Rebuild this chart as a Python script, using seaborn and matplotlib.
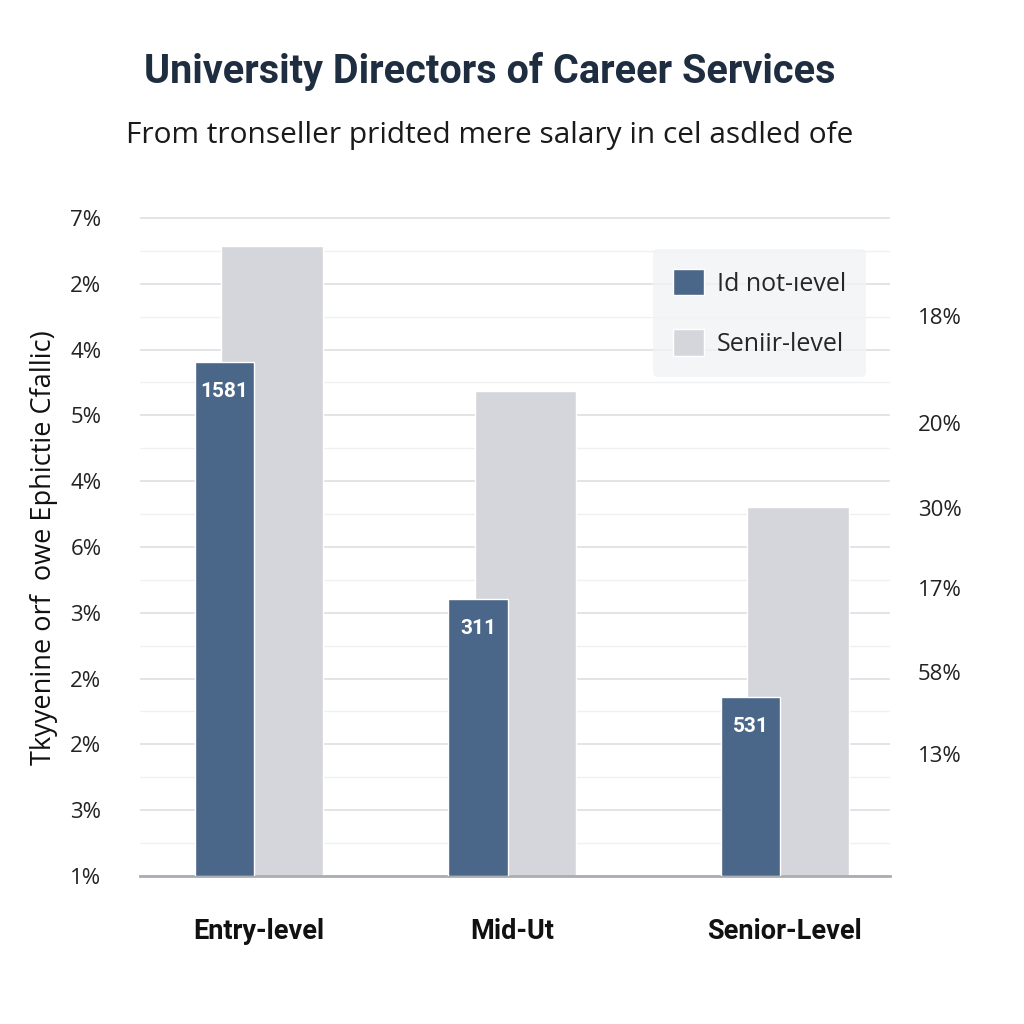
import numpy as np
import matplotlib
matplotlib.use("Agg")
import matplotlib.pyplot as plt
import seaborn as sns

# --- DATA ---
categories = ["Entry-level", "Mid-Ut", "Senior-Level"]
blue_values = [7.81, 4.21, 2.72]      # "Id not-ıevel"
grey_values = [9.57, 7.37, 5.61]      # "Seniir-level"
blue_labels = ["1581", "311", "531"]
left_tick_labels = ["1%", "3%", "2%", "2%", "3%", "6%", "4%", "5%", "4%", "2%", "7%"]
right_tick_pos = [8.51, 6.88, 5.59, 4.38, 3.10, 1.85]
right_tick_labels = ["18%", "20%", "30%", "17%", "58%", "13%"]

BLUE = "#4a6688"
GREY = "#d4d6db"

sns.set_style("white")
plt.rcParams["font.family"] = ["Open Sans", "DejaVu Sans"]

fig = plt.figure(figsize=(10.24, 10.24), dpi=100)
ax = fig.add_axes([0.137, 0.1445, 0.732, 0.662])

# group centres (the middle group sits a little left in the original)
pos = np.array([0.0, 0.965, 2.0])

# grey behind, blue in front (overlapping bars)
sns.barplot(x=pos + 0.05, y=grey_values, native_scale=True, width=0.40,
            color=GREY, saturation=1, label="Seniir-level", ax=ax, zorder=2)
sns.barplot(x=pos - 0.13, y=blue_values, native_scale=True, width=0.235,
            color=BLUE, saturation=1, label="Id not-ıevel", ax=ax, zorder=3)

blue_container = ax.containers[1]
ax.bar_label(blue_container, labels=blue_labels, padding=-28, color="white",
             fontsize=15, fontweight="bold", family=["Roboto", "DejaVu Sans"])

ax.set_xlim(-0.45, 2.40)
ax.set_ylim(0, 10.3)
ax.set_xticks(pos)
ax.set_xticklabels(categories, fontsize=19.5, fontweight="bold",
                   family=["Roboto", "DejaVu Sans"], color="#111111")
ax.tick_params(axis="x", length=0, pad=30)
ax.set_yticks(range(11))
ax.set_yticklabels(left_tick_labels, fontsize=16, color="#222222")
ax.tick_params(axis="y", length=0, pad=28)
ax.set_yticks(np.arange(0.5, 10.3, 1.0), minor=True)
ax.tick_params(axis="y", which="minor", length=0)

ax.grid(axis="y", which="major", color="#e2e4e7", linewidth=1.4, zorder=0)
ax.grid(axis="y", which="minor", color="#eef0f2", linewidth=1.0, zorder=0)
ax.set_axisbelow(True)
for s in ["top", "right", "left"]:
    ax.spines[s].set_visible(False)
ax.spines["bottom"].set_color("#a9acb1")
ax.spines["bottom"].set_linewidth(2)
ax.set_xlabel("")

ax.set_ylabel("Tkyyenine orf  owe Ephictie Cfallic)", fontsize=19.5, color="#111111")
ax.yaxis.set_label_coords(-0.11, 0.485)

# right-side labels
ax2 = ax.twinx()
ax2.set_ylim(ax.get_ylim())
ax2.set_yticks(right_tick_pos)
ax2.set_yticklabels(right_tick_labels, fontsize=16, color="#222222")
ax2.tick_params(axis="y", length=0, pad=20)
for s in ax2.spines.values():
    s.set_visible(False)

handles, labels = ax.get_legend_handles_labels()
order = [labels.index("Id not-ıevel"), labels.index("Seniir-level")]
leg = ax.legend([handles[i] for i in order], [labels[i] for i in order],
                loc="upper right", bbox_to_anchor=(0.968, 0.925), borderaxespad=0,
                fontsize=18, frameon=True, facecolor="#f2f3f4", edgecolor="none",
                fancybox=True, handlelength=1.25, handleheight=1.25,
                borderpad=0.8, labelspacing=1.3, handletextpad=0.5)
leg.set_zorder(5)

fig.text(0.478, 0.93, "University Directors of Career Services", ha="center",
         va="center", fontsize=28.5, fontweight="bold", color="#1e2d3f",
         family=["Roboto", "DejaVu Sans"])
fig.text(0.478, 0.868, "From tronseller pridted mere salary in cel asdled ofe",
         ha="center", va="center", fontsize=21.5, color="#1a1a1a")

fig.patch.set_facecolor("white")
plt.savefig("out.png", dpi=100, facecolor="white")
